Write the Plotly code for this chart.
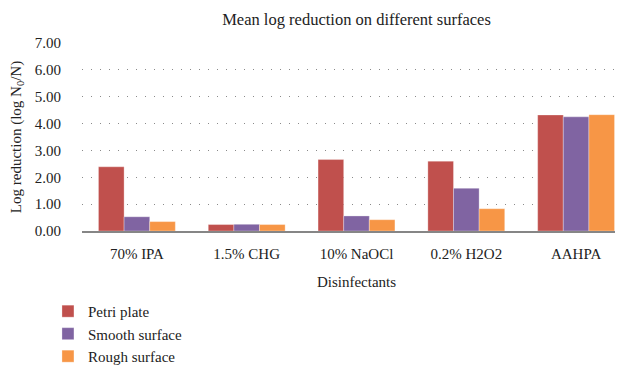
import plotly.graph_objects as go

categories = ["70% IPA", "1.5% CHG", "10% NaOCl", "0.2% H2O2", "AAHPA"]
petri_plate = [2.39, 0.24, 2.66, 2.60, 4.32]
smooth_surface = [0.53, 0.25, 0.56, 1.59, 4.25]
rough_surface = [0.35, 0.24, 0.42, 0.83, 4.33]
y_ticks = [0, 1, 2, 3, 4, 5, 6, 7]

FONT = "'Liberation Serif', 'Times New Roman', 'DejaVu Serif', serif"

fig = go.Figure()
for name, vals, col in [
    ("Petri plate", petri_plate, "#C0504D"),
    ("Smooth surface", smooth_surface, "#8064A2"),
    ("Rough surface", rough_surface, "#F79646"),
]:
    fig.add_trace(go.Bar(x=categories, y=vals, name=name,
                         marker=dict(color=col, line=dict(width=0.6, color="rgba(255,255,255,0.5)"))))

fig.update_layout(
    width=623, height=365,
    margin=dict(l=73.5, r=0, t=35, b=131),
    paper_bgcolor="white", plot_bgcolor="white",
    font=dict(family=FONT, size=15, color="#222"),
    barmode="group", bargap=0.3, bargroupgap=0,
    title=dict(text="Mean log reduction on different surfaces", x=0.5, xref="paper",
               y=0.97, yref="container", yanchor="middle",
               font=dict(size=16.5, family=FONT, color="#222")),
    showlegend=True,
    legend=dict(orientation="v", x=-0.062, xanchor="left", y=-0.34, yanchor="top",
                font=dict(size=15, family=FONT), itemwidth=30, tracegroupgap=0,
                bgcolor="rgba(0,0,0,0)"),
)
fig.update_yaxes(range=[0, 7], tickvals=y_ticks, tickformat=".2f",
                 showgrid=True, gridcolor="#8a8a8a", griddash="1px,8px", gridwidth=1.2,
                 zeroline=False, showline=False, ticks="", ticklabelstandoff=20,
                 title=dict(text="Log reduction (log N<sub>0</sub>/N)", standoff=10,
                            font=dict(size=15, family=FONT)),
                 automargin=False)
fig.update_xaxes(showline=True, linecolor="#868686", linewidth=1.5, ticks="",
                 ticklabelstandoff=8, showgrid=False,
                 title=dict(text="Disinfectants", standoff=16, font=dict(size=15, family=FONT)),
                 automargin=False)
fig.write_html("out.html")
